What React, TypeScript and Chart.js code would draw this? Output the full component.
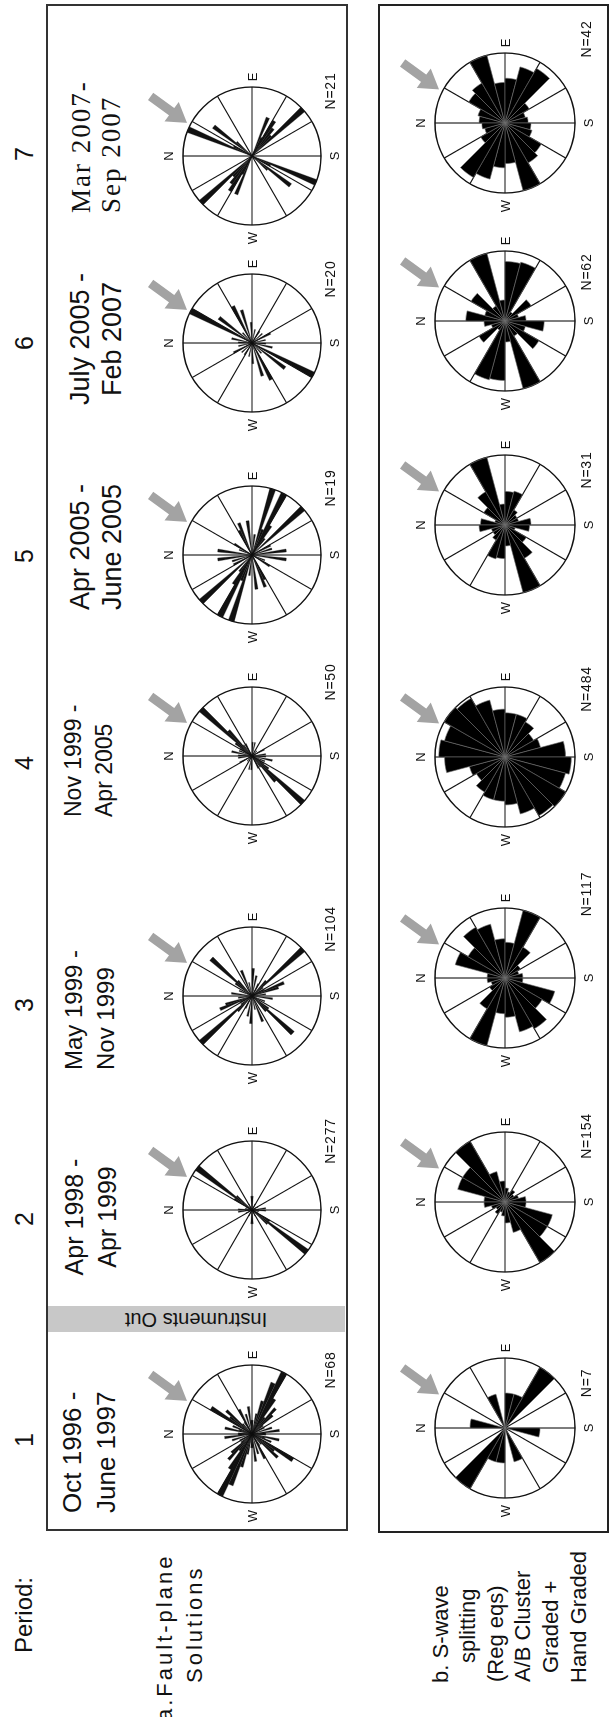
import React, { useEffect, useRef } from 'react';
import { Chart, registerables } from 'chart.js';
Chart.register(...registerables);

// ---------- data ----------
const periodNumbers = ['1', '2', '3', '4', '5', '6', '7'];
const periodLine1 = ['Oct 1996 -', 'Apr 1998 -', 'May 1999 -', 'Nov 1999 -', 'Apr 2005 -', 'July 2005 -', 'Mar 2007-'];
const periodLine2 = ['June 1997', 'Apr 1999', 'Nov 1999', 'Apr 2005', 'June 2005', 'Feb 2007', 'Sep 2007'];
const fpCounts = ['N=68', 'N=277', 'N=104', 'N=50', 'N=19', 'N=20', 'N=21'];
const swCounts = ['N=7', 'N=154', 'N=117', 'N=484', 'N=31', 'N=62', 'N=42'];

// fault-plane solutions: 5° bins, 0°..175° (axial data, repeated for the opposite half)
const FP_BIN = 5;
const fpP1 = [2, 0, 4, 2, 3, 0, 7, 4, 5, 2, 0, 2, 4, 0, 3, 0, 4, 2, 2, 0, 3, 5, 8, 10, 6, 3, 5, 4, 2, 0, 2, 0, 3, 0, 4, 2];
const fpP2 = [2, 0, 1, 0, 0, 1, 3, 10, 3, 0, 0, 0, 1, 0, 0, 0, 0, 2, 2, 0, 0, 0, 0, 1, 0, 0, 0, 0, 0, 0, 1, 0, 0, 0, 2, 1];
const fpP3 = [0, 3, 0, 0, 2, 0, 0, 3, 8, 3, 0, 0, 0, 4, 0, 2, 0, 0, 4, 0, 3, 0, 0, 2, 0, 0, 3, 10, 2, 0, 2, 5, 4, 0, 2, 0];
const fpP4 = [2, 0, 3, 0, 2, 0, 2, 3, 10, 5, 2, 0, 2, 0, 0, 0, 0, 0, 2, 0, 2, 0, 0, 0, 0, 0, 1, 0, 0, 0, 2, 0, 0, 0, 2, 0];
const fpP5 = [0, 5, 0, 0, 2, 0, 3, 0, 0, 0, 0, 0, 4, 5, 0, 0, 5, 0, 0, 3, 0, 10, 4, 10, 5, 3, 0, 10, 0, 0, 3, 0, 3, 0, 5, 0];
const fpP6 = [2, 0, 3, 0, 0, 10, 0, 6, 0, 2, 0, 0, 6, 0, 5, 0, 0, 3, 0, 0, 2, 0, 0, 0, 2, 0, 0, 2, 0, 0, 3, 0, 0, 2, 0, 0];
const fpP7 = [0, 0, 0, 0, 10, 3, 0, 7, 3, 0, 0, 0, 0, 0, 0, 0, 0, 0, 0, 0, 0, 0, 6, 3, 6, 5, 4, 10, 0, 0, 0, 0, 0, 0, 0, 0];

// S-wave splitting: 15° bins, 0°..165°
const SW_BIN = 15;
const swP1 = [1, 0, 0, 0, 1, 0, 1, 1, 2, 0, 0, 0];
const swP2 = [3, 7, 7, 10, 4.5, 3, 2, 1.5, 2, 1.5, 2, 3];
const swP3 = [2.5, 7.2, 6, 8.2, 7.8, 5.5, 5, 9.8, 5, 2.5, 2, 2.5];
const swP4 = [9, 8.5, 9.5, 9.2, 8, 6.5, 6, 6, 5.5, 4.5, 5, 8.2];
const swP5 = [3.5, 1.5, 3.5, 5.5, 10, 3, 4.8, 5, 2.5, 2, 2, 3.7];
const swP6 = [5.6, 3, 5.6, 2.5, 10, 3, 8.5, 8.7, 1.5, 4.3, 2, 3];
const swP7 = [3.7, 4, 6, 6.6, 10, 5.8, 6.4, 8.3, 9, 4, 3, 3.3];

const fpSeries = [fpP1, fpP2, fpP3, fpP4, fpP5, fpP6, fpP7];
const swSeries = [swP1, swP2, swP3, swP4, swP5, swP6, swP7];

// ---------- layout (landscape frame, rotated at the end) ----------
const W = 1717;
const H = 611;
const fpCX = [283, 507, 721, 961, 1162, 1374, 1561];
const swCX = [289, 515, 739, 960, 1192, 1396, 1594];
const numCX = [277, 498, 712, 954, 1161, 1374, 1563];
const fpLabelCX = [347, 576, 788, 1035, 1229, 1438, 1626];
const swLabelCX = [334, 581, 823, 1028, 1247, 1445, 1678];
const FP_CY = 252;
const SW_CY = 505;
const FP_R = 69;
const SW_R = 70;
const PAD = 44;

const ARROW_TIP_BEARING = 27;
const ARROW_DIR_BEARING = 36;

const arrowPlugin = {
  id: 'shmaxArrow',
  afterDraw(chart: any) {
    const s = chart.scales.r;
    const ctx = chart.ctx;
    const cx = s.xCenter;
    const cy = s.yCenter;
    const R = s.drawingArea;
    const tb = (ARROW_TIP_BEARING * Math.PI) / 180;
    const tipX = cx + Math.sin(tb) * (R + 4);
    const tipY = cy - Math.cos(tb) * (R + 4);
    const db = (ARROW_DIR_BEARING * Math.PI) / 180;
    const ux = Math.sin(db);
    const uy = -Math.cos(db);
    const px = -uy;
    const py = ux;
    const len = 45;
    const headLen = 19;
    const headHalf = 12;
    const shaftHalf = 4.5;
    const pt = (a: number, b: number) => [tipX + ux * a + px * b, tipY + uy * a + py * b];
    const poly = [
      pt(0, 0),
      pt(headLen, headHalf),
      pt(headLen, shaftHalf),
      pt(len, shaftHalf),
      pt(len, -shaftHalf),
      pt(headLen, -shaftHalf),
      pt(headLen, -headHalf),
    ];
    ctx.save();
    ctx.fillStyle = '#a3a3a3';
    ctx.beginPath();
    poly.forEach(([x, y], i) => (i ? ctx.lineTo(x, y) : ctx.moveTo(x, y)));
    ctx.closePath();
    ctx.fill();
    ctx.restore();
  },
};

function Rose(props: { cx: number; cy: number; r: number; half: number[]; bin: number; spokeEvery: number; sw: boolean }) {
  const { cx, cy, r, half, bin, spokeEvery, sw } = props;
  const ref = useRef<HTMLCanvasElement>(null);
  const S = 2 * (r + PAD);
  useEffect(() => {
    const values = half.concat(half);
    const labels = values.map((_, i) => `${i * bin}°`);
    const max = Math.max(...values);
    const chart = new Chart(ref.current as HTMLCanvasElement, {
      type: 'polarArea',
      data: {
        labels,
        datasets: [
          {
            data: values,
            backgroundColor: sw ? '#000000' : '#111111',
            borderColor: sw ? '#6f6f6f' : '#111111',
            borderWidth: sw ? 0.6 : 0.3,
          },
        ],
      },
      options: {
        animation: false,
        responsive: false,
        maintainAspectRatio: false,
        layout: { padding: PAD },
        plugins: { legend: { display: false }, tooltip: { enabled: false } },
        scales: {
          r: {
            min: 0,
            max,
            startAngle: 0,
            ticks: { display: false, stepSize: max },
            grid: { circular: true, color: '#111', lineWidth: 1.3 },
            angleLines: {
              display: true,
              color: '#111',
              lineWidth: (c: any) => (c.index % spokeEvery === 0 ? 1.1 : 0),
            },
            pointLabels: { display: false },
          },
        },
      } as any,
      plugins: [arrowPlugin],
    });
    return () => chart.destroy();
  }, []);
  return (
    <canvas
      ref={ref}
      width={S}
      height={S}
      style={{ position: 'absolute', left: cx - S / 2, top: cy - S / 2, width: S, height: S }}
    />
  );
}

function Txt(props: {
  x: number;
  y: number;
  text: string;
  size: number;
  align?: 'left' | 'center';
  serif?: boolean;
  spacing?: number;
  color?: string;
}) {
  const { x, y, text, size, align = 'left', serif = false, spacing = 0, color = '#111' } = props;
  const L = Math.round(size * 1.3);
  const style: any = {
    position: 'absolute',
    top: y - L / 2,
    height: L,
    lineHeight: `${L}px`,
    fontSize: size,
    whiteSpace: 'nowrap',
    letterSpacing: spacing,
    color,
    fontFamily: serif ? '"Liberation Serif", "Times New Roman", serif' : '"Liberation Sans", Arial, sans-serif',
  };
  if (align === 'left') style.left = x;
  else {
    style.left = x - 300;
    style.width = 600;
    style.textAlign = 'center';
  }
  return <div style={style}>{text}</div>;
}

function Compass({ cx, cy, r }: { cx: number; cy: number; r: number }) {
  return (
    <>
      <Txt x={cx} y={cy - r - 15} text="N" size={13} align="center" />
      <Txt x={cx + r + 10} y={cy} text="E" size={13} align="center" />
      <Txt x={cx} y={cy + r + 13} text="S" size={13} align="center" />
      <Txt x={cx - r - 13} y={cy} text="W" size={13} align="center" />
    </>
  );
}

const titleX = [204, 500, 647, 900, 1107, 1378, 1504];
const titleAlign: ('left' | 'center')[] = ['left', 'center', 'left', 'left', 'left', 'center', 'left'];
const titleSize = [26, 25, 24, 23, 27, 27, 27];
const titleY1 = [72, 74, 73, 73, 80, 80, 81];
const titleY2 = [106, 107, 105, 104, 112, 112, 111];

const bLabelLines = ['b. S-wave', 'splitting', '(Reg eqs)', 'A/B Cluster', 'Graded +', 'Hand Graded'];
const bLabelX = [34, 54, 35, 35, 44, 34];
const bLabelY = [440, 467, 495, 522, 550, 578];

export default function App() {
  return (
    <div style={{ position: 'absolute', left: 0, top: 0, width: 611, height: 1717, overflow: 'hidden', background: '#fff' }}>
      <div
        style={{
          position: 'absolute',
          left: 0,
          top: 0,
          width: W,
          height: H,
          transformOrigin: '0 0',
          transform: `translate(0px, ${W}px) rotate(-90deg)`,
          fontFamily: '"Liberation Sans", Arial, sans-serif',
        }}
      >
        {/* panel frames */}
        <div style={{ position: 'absolute', left: 186, top: 46, width: 1527, height: 302, border: '2px solid #333', boxSizing: 'border-box' }} />
        <div style={{ position: 'absolute', left: 184, top: 378, width: 1529, height: 231, border: '2px solid #222', boxSizing: 'border-box' }} />

        {/* instruments out bar */}
        <div style={{ position: 'absolute', left: 385, top: 48, width: 26, height: 297, background: '#c8c8c8' }}>
          <div
            style={{
              position: 'absolute',
              left: 13,
              top: 148,
              transform: 'translate(-50%, -50%) rotate(-90deg)',
              fontSize: 20,
              whiteSpace: 'nowrap',
              color: '#111',
            }}
          >
            Instruments Out
          </div>
        </div>

        <Txt x={64} y={23} text="Period:" size={24} />
        {periodNumbers.map((t, i) => (
          <Txt key={'n' + i} x={numCX[i]} y={24} text={t} size={25} align="center" />
        ))}

        <Txt x={-4} y={164} text="a.Fault-plane" size={22} spacing={3} />
        <Txt x={34} y={194} text="Solutions" size={22} spacing={3} />
        {bLabelLines.map((t, i) => (
          <Txt key={'b' + i} x={bLabelX[i]} y={bLabelY[i]} text={t} size={22} />
        ))}

        {periodLine1.map((t, i) => (
          <Txt key={'t1' + i} x={titleX[i]} y={titleY1[i]} text={t} size={titleSize[i]} align={titleAlign[i]} serif={i === 6} spacing={i === 6 ? 2 : 0} />
        ))}
        {periodLine2.map((t, i) => (
          <Txt key={'t2' + i} x={titleX[i]} y={titleY2[i]} text={t} size={titleSize[i]} align={titleAlign[i]} serif={i === 6} spacing={i === 6 ? 2 : 0} />
        ))}

        {fpSeries.map((d, i) => (
          <Rose key={'fp' + i} cx={fpCX[i]} cy={FP_CY} r={FP_R} half={d} bin={FP_BIN} spokeEvery={30 / FP_BIN} sw={false} />
        ))}
        {swSeries.map((d, i) => (
          <Rose key={'sw' + i} cx={swCX[i]} cy={SW_CY} r={SW_R} half={d} bin={SW_BIN} spokeEvery={30 / SW_BIN} sw={true} />
        ))}

        {fpCX.map((cx, i) => (
          <Compass key={'cf' + i} cx={cx} cy={FP_CY} r={FP_R} />
        ))}
        {swCX.map((cx, i) => (
          <Compass key={'cs' + i} cx={cx} cy={SW_CY} r={SW_R} />
        ))}

        {fpCounts.map((t, i) => (
          <Txt key={'fc' + i} x={fpLabelCX[i]} y={330} text={t} size={14} align="center" spacing={0.8} />
        ))}
        {swCounts.map((t, i) => (
          <Txt key={'sc' + i} x={swLabelCX[i]} y={586} text={t} size={14} align="center" spacing={0.8} />
        ))}
      </div>
    </div>
  );
}
